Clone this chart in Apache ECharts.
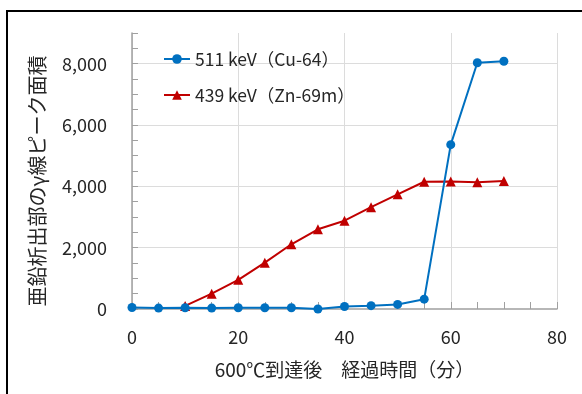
<!DOCTYPE html>
<html>
<head>
<meta charset="utf-8">
<script src="https://cdn.jsdelivr.net/npm/echarts@6/dist/echarts.min.js"></script>
<style>
html,body{margin:0;padding:0;background:#fff;}
#chart{width:582px;height:394px;}
</style>
</head>
<body>
<div id="chart"></div>
<script>
const times = [0, 5, 10, 15, 20, 25, 30, 35, 40, 45, 50, 55, 60, 65, 70];
const cu64 = [50, 30, 40, 30, 40, 40, 40, 0, 80, 110, 150, 320, 5360, 8030, 8080];
const zn69m = [null, null, 100, 500, 950, 1510, 2110, 2600, 2880, 3320, 3740, 4150, 4160, 4130, 4170];
const seriesNames = ['511 keV（Cu-64）', '439 keV（Zn-69m）'];
const xName = '600℃到達後　経過時間（分）';
const yName = '亜鉛析出部のγ線ピーク面積';
const xTicks = [0, 20, 40, 60, 80];
const yTicks = [0, 2000, 4000, 6000, 8000];

const FONT = 'Noto Sans CJK JP';
const AXIS_COLOR = '#a0a0a0';
const GRID_COLOR = '#dcdcdc';
const TEXT_COLOR = '#262626';

const pairs = (vals) => times.map((t, i) => [t, vals[i]]);
const gridBox = { left: 132, right: 25, top: 33, bottom: 85 };

const chart = echarts.init(document.getElementById('chart'), null, { renderer: 'canvas' });
chart.setOption({
  backgroundColor: '#fff',
  animation: false,
  textStyle: { fontFamily: FONT },
  graphic: [
    { type: 'rect', shape: { x: 7, y: 11, width: 620, height: 420 }, style: { fill: 'none', stroke: '#000', lineWidth: 2 }, z: 100 },
    { type: 'text', x: 37, y: 181, rotation: Math.PI / 2,
      style: { text: yName, font: '20px "' + FONT + '"', fill: TEXT_COLOR, align: 'center', verticalAlign: 'middle' } }
  ],
  grid: [
    Object.assign({}, gridBox),
    Object.assign({}, gridBox)
  ],
  legend: {
    orient: 'vertical', left: 158, top: 44,
    itemWidth: 26, itemHeight: 12, itemGap: 16,
    textStyle: { fontFamily: FONT, fontSize: 17.5, color: TEXT_COLOR, lineHeight: 20 },
    data: seriesNames
  },
  xAxis: [
    {
      gridIndex: 0, type: 'value', min: 0, max: 80, interval: 20,
      name: xName, nameLocation: 'middle', nameGap: 51,
      nameTextStyle: { fontFamily: FONT, fontSize: 19, color: TEXT_COLOR },
      axisLine: { show: true, lineStyle: { color: AXIS_COLOR, width: 1.5 } },
      axisTick: { show: true, inside: true, length: 7, lineStyle: { color: AXIS_COLOR } },
      minorTick: { show: true, splitNumber: 4, length: 7, lineStyle: { color: AXIS_COLOR } },
      axisLabel: { margin: 19, fontFamily: FONT, fontSize: 18, color: TEXT_COLOR,
        formatter: (v) => xTicks.includes(v) ? String(v) : '' },
      splitLine: { show: true, lineStyle: { color: GRID_COLOR, width: 1 } }
    },
    {
      gridIndex: 1, type: 'value', min: 0, max: 80, interval: 20, show: false
    }
  ],
  yAxis: [
    {
      gridIndex: 0, type: 'value', min: 0, max: 9000, interval: 500,
      axisLine: { show: true, lineStyle: { color: AXIS_COLOR, width: 1.5 } },
      axisTick: { show: true, inside: true, length: 6, lineStyle: { color: AXIS_COLOR } },
      axisLabel: { show: false },
      splitLine: { show: false }
    },
    {
      gridIndex: 1, type: 'value', min: 0, max: 9000, interval: 2000,
      axisLine: { show: false }, axisTick: { show: false },
      axisLabel: { margin: 25, fontFamily: FONT, fontSize: 18, color: TEXT_COLOR,
        formatter: (v) => yTicks.includes(v) ? v.toLocaleString('en-US') : '' },
      splitLine: { show: true, showMaxLine: false, showMinLine: false, lineStyle: { color: GRID_COLOR, width: 1 } }
    }
  ],
  series: [
    {
      name: seriesNames[0], type: 'line', xAxisIndex: 0, yAxisIndex: 0,
      data: pairs(cu64), symbol: 'circle', symbolSize: 9,
      itemStyle: { color: '#0070C0' }, lineStyle: { color: '#0070C0', width: 2 }, z: 3
    },
    {
      name: seriesNames[1], type: 'line', xAxisIndex: 0, yAxisIndex: 0,
      data: pairs(zn69m), symbol: 'triangle', symbolSize: 10,
      itemStyle: { color: '#C00000' }, lineStyle: { color: '#C00000', width: 2 }, z: 2
    }
  ]
});
</script>
</body>
</html>
